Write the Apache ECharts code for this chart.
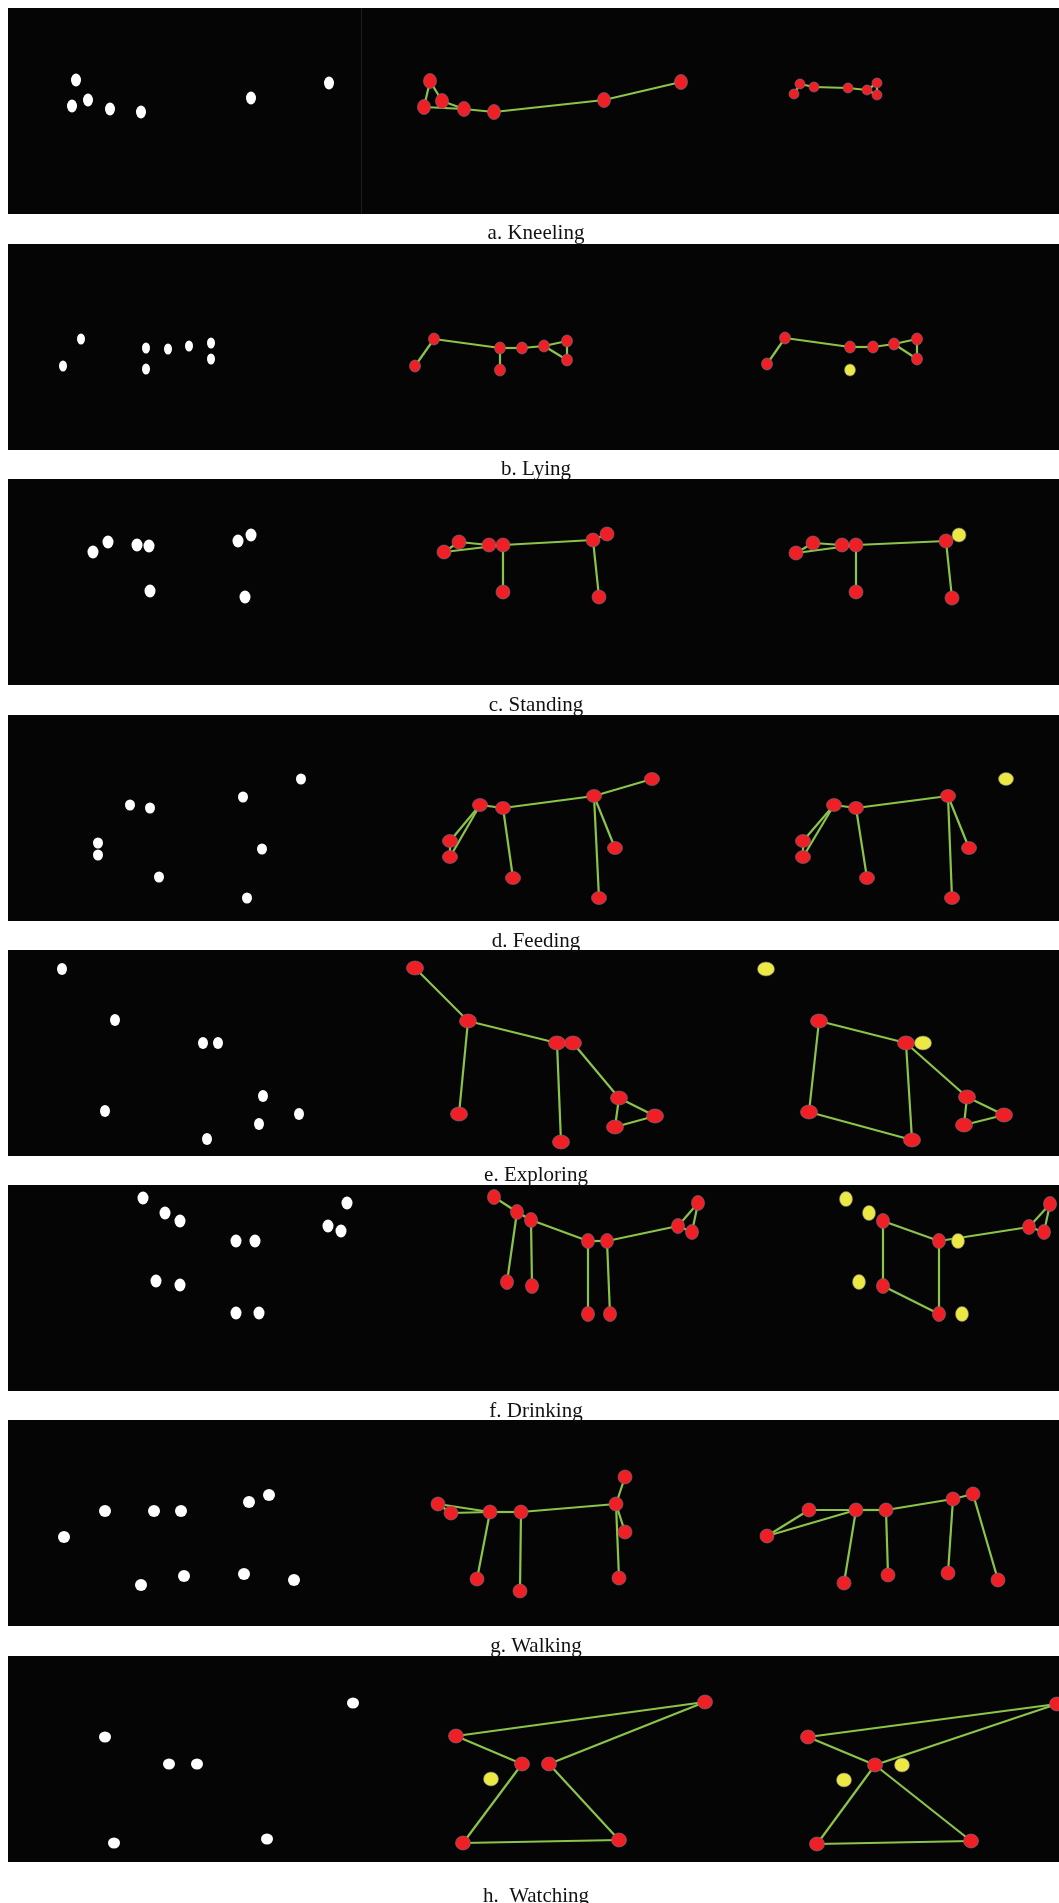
<!DOCTYPE html>
<html>
<head>
<meta charset="utf-8">
<script src="https://cdn.jsdelivr.net/npm/echarts@6/dist/echarts.min.js"></script>
<style>
  html, body { margin: 0; padding: 0; background: #fff; }
  #main { width: 1059px; height: 1903px; }
</style>
</head>
<body>
<div id="main"></div>
<script>
// captions of the eight behaviours
var captions = ['a. Kneeling', 'b. Lying', 'c. Standing', 'd. Feeding',
                'e. Exploring', 'f. Drinking', 'g. Walking', 'h.  Watching'];

// keypoints: [x, y] raw blobs, [x, y, k] skeletons (k = 1 -> yellow point)
var aRaw = [[76,72],[72,98],[88,92],[110,101],[141,104],[251,90],[329,75]];
var aPose = [[430,73,0],[424,99,0],[442,93,0],[464,101,0],[494,104,0],[604,92,0],[681,74,0]];
var aPoseEdges = [[0,1],[0,2],[1,3],[2,3],[3,4],[4,5],[5,6]];
var aFix = [[800,76,0],[794,86,0],[814,79,0],[848,80,0],[867,82,0],[877,75,0],[877,87,0]];
var aFixEdges = [[0,1],[0,2],[2,3],[3,4],[4,5],[4,6],[5,6]];

var bRaw = [[81,95],[63,122],[146,104],[146,125],[168,105],[189,102],[211,99],[211,115]];
var bPose = [[434,95,0],[415,122,0],[500,104,0],[500,126,0],[522,104,0],[544,102,0],[567,97,0],[567,116,0]];
var bPoseEdges = [[0,1],[0,2],[2,3],[2,4],[4,5],[5,6],[5,7],[6,7]];
var bFix = [[785,94,0],[767,120,0],[850,103,0],[850,126,1],[873,103,0],[894,100,0],[917,95,0],[917,115,0]];
var bFixEdges = [[0,1],[0,2],[2,4],[4,5],[5,6],[5,7],[6,7]];

var cRaw = [[93,73],[108,63],[137,66],[149,67],[150,112],[238,62],[251,56],[245,118]];
var cPose = [[444,73,0],[459,63,0],[489,66,0],[503,66,0],[503,113,0],[593,61,0],[607,55,0],[599,118,0]];
var cPoseEdges = [[0,1],[0,3],[1,2],[2,3],[3,4],[3,5],[5,6],[5,7]];
var cFix = [[796,74,0],[813,64,0],[842,66,0],[856,66,0],[856,113,0],[946,62,0],[959,56,1],[952,119,0]];
var cFixEdges = [[0,1],[0,3],[1,2],[2,3],[3,4],[3,5],[5,7]];

var dRaw = [[301,64],[243,82],[130,90],[150,93],[98,128],[98,140],[262,134],[159,162],[247,183]];
var dPose = [[652,64,0],[594,81,0],[480,90,0],[503,93,0],[450,126,0],[450,142,0],[615,133,0],[513,163,0],[599,183,0]];
var dPoseEdges = [[0,1],[1,3],[2,3],[2,4],[2,5],[4,5],[3,7],[1,6],[1,8]];
var dFix = [[1006,64,1],[948,81,0],[834,90,0],[856,93,0],[803,126,0],[803,142,0],[969,133,0],[867,163,0],[952,183,0]];
var dFixEdges = [[1,3],[2,3],[2,4],[2,5],[4,5],[3,7],[1,6],[1,8]];

var eRaw = [[62,19],[115,70],[203,93],[218,93],[105,161],[263,146],[299,164],[259,174],[207,189]];
var ePose = [[415,18,0],[468,71,0],[557,93,0],[573,93,0],[459,164,0],[561,192,0],[619,148,0],[655,166,0],[615,177,0]];
var ePoseEdges = [[0,1],[1,2],[2,3],[1,4],[2,5],[3,6],[6,7],[6,8],[7,8]];
var eFix = [[766,19,1],[819,71,0],[906,93,0],[923,93,1],[809,162,0],[912,190,0],[967,147,0],[1004,165,0],[964,175,0]];
var eFixEdges = [[1,2],[1,4],[4,5],[2,5],[2,6],[6,7],[6,8],[7,8]];

var fRaw = [[143,13],[165,28],[180,36],[236,56],[255,56],[156,96],[180,100],[236,128],[259,128],[347,18],[328,41],[341,46]];
var fPose = [[494,12,0],[517,27,0],[531,35,0],[588,56,0],[607,56,0],[507,97,0],[532,101,0],[588,129,0],[610,129,0],[698,18,0],[678,41,0],[692,47,0]];
var fPoseEdges = [[0,1],[1,2],[1,5],[2,6],[2,3],[3,4],[3,7],[4,8],[4,10],[9,10],[10,11],[9,11]];
var fFix = [[846,14,1],[869,28,1],[883,36,0],[939,56,0],[958,56,1],[859,97,1],[883,101,0],[939,129,0],[962,129,1],[1050,19,0],[1029,42,0],[1044,47,0]];
var fFixEdges = [[2,3],[2,6],[6,7],[3,7],[3,10],[9,10],[10,11],[9,11]];

var gRaw = [[64,117],[105,91],[154,91],[181,91],[249,82],[269,75],[141,165],[184,156],[244,154],[294,160]];
var gPose = [[438,84,0],[451,93,0],[490,92,0],[521,92,0],[616,84,0],[625,57,0],[625,112,0],[477,159,0],[520,171,0],[619,158,0]];
var gPoseEdges = [[0,1],[0,2],[1,2],[2,3],[3,4],[4,5],[4,6],[4,9],[2,7],[3,8]];
var gFix = [[767,116,0],[809,90,0],[856,90,0],[886,90,0],[953,79,0],[973,74,0],[844,163,0],[888,155,0],[948,153,0],[998,160,0]];
var gFixEdges = [[0,1],[0,2],[1,2],[2,3],[3,4],[4,5],[2,6],[3,7],[4,8],[5,9]];

var hRaw = [[353,47],[105,81],[169,108],[197,108],[114,187],[267,183]];
var hPose = [[705,46,0],[456,80,0],[522,108,0],[549,108,0],[491,123,1],[463,187,0],[619,184,0]];
var hPoseEdges = [[0,1],[0,3],[1,2],[2,5],[3,6],[5,6]];
var hFix = [[1057,48,0],[808,81,0],[875,109,0],[902,109,1],[844,124,1],[817,188,0],[971,185,0]];
var hFixEdges = [[0,1],[0,2],[1,2],[2,5],[2,6],[5,6]];

var panels = [
    {raw: aRaw, pose: aPose, poseEdges: aPoseEdges, fix: aFix, fixEdges: aFixEdges},
    {raw: bRaw, pose: bPose, poseEdges: bPoseEdges, fix: bFix, fixEdges: bFixEdges},
    {raw: cRaw, pose: cPose, poseEdges: cPoseEdges, fix: cFix, fixEdges: cFixEdges},
    {raw: dRaw, pose: dPose, poseEdges: dPoseEdges, fix: dFix, fixEdges: dFixEdges},
    {raw: eRaw, pose: ePose, poseEdges: ePoseEdges, fix: eFix, fixEdges: eFixEdges},
    {raw: fRaw, pose: fPose, poseEdges: fPoseEdges, fix: fFix, fixEdges: fFixEdges},
    {raw: gRaw, pose: gPose, poseEdges: gPoseEdges, fix: gFix, fixEdges: gFixEdges},
    {raw: hRaw, pose: hPose, poseEdges: hPoseEdges, fix: hFix, fixEdges: hFixEdges}
];

// layout / style
var panelTops = [8, 244, 479, 715, 950, 1185, 1420, 1656];
var captionMid = [230, 466, 702, 938, 1172, 1408, 1643, 1893];
var panelH = 206;
// symbol sizes per panel: [raw, pose, fix]
var sizes = [
    [[10,13],[13,15],[10,10]],
    [[8,11],[11,12],[11,12]],
    [[11,13],[14,14],[14,14]],
    [[10,11],[15,13],[15,13]],
    [[10,12],[17,14],[17,14]],
    [[11,13],[13,15],[13,15]],
    [[12,12],[14,14],[14,14]],
    [[12,11],[15,14],[15,14]]
];
var RED = '#ee1f25', YELLOW = '#ece945', GREEN = '#8cc44a';

var myChart = echarts.init(document.getElementById('main'));

var grids = [], xAxes = [], yAxes = [], series = [], titles = [];

function edgeData(pts, edges) {
    return edges.map(function (e) {
        return {coords: [[pts[e[0]][0], pts[e[0]][1]], [pts[e[1]][0], pts[e[1]][1]]]};
    });
}

function pointSeries(pts, size, idx) {
    return {
        type: 'scatter', xAxisIndex: idx, yAxisIndex: idx,
        symbol: 'circle', symbolSize: size, z: 5,
        data: pts.map(function (p) {
            return {
                value: [p[0], p[1]],
                itemStyle: {color: p[2] ? YELLOW : RED, opacity: 1,
                            borderColor: '#75758a', borderWidth: 0.6}
            };
        })
    };
}

panels.forEach(function (p, i) {
    grids.push({
        left: 8, right: 0, top: panelTops[i], height: panelH,
        show: true, backgroundColor: '#050505', borderWidth: 0
    });
    xAxes.push({type: 'value', gridIndex: i, min: 8, max: 1059, show: false});
    yAxes.push({type: 'value', gridIndex: i, min: 0, max: panelH, inverse: true, show: false});

    var raw = {
        type: 'scatter', xAxisIndex: i, yAxisIndex: i,
        symbol: 'circle', symbolSize: sizes[i][0], z: 5,
        itemStyle: {color: '#ffffff', opacity: 1},
        data: p.raw
    };
    if (i === 0) {
        // faint seam between the first two frames
        raw.markLine = {
            silent: true, symbol: 'none', label: {show: false},
            lineStyle: {color: '#1e1e1e', width: 1, type: 'solid'},
            data: [{xAxis: 361}]
        };
    }
    series.push(raw);

    series.push({
        type: 'lines', coordinateSystem: 'cartesian2d', xAxisIndex: i, yAxisIndex: i,
        z: 3, lineStyle: {color: GREEN, width: 2.2, opacity: 1, curveness: 0},
        data: edgeData(p.pose, p.poseEdges)
    });
    series.push(pointSeries(p.pose, sizes[i][1], i));

    series.push({
        type: 'lines', coordinateSystem: 'cartesian2d', xAxisIndex: i, yAxisIndex: i,
        z: 3, lineStyle: {color: GREEN, width: 2.2, opacity: 1, curveness: 0},
        data: edgeData(p.fix, p.fixEdges)
    });
    series.push(pointSeries(p.fix, sizes[i][2], i));

    titles.push({
        text: captions[i], left: 531, top: captionMid[i] - 12, textAlign: 'center',
        textStyle: {fontFamily: 'Liberation Serif', fontSize: 21, fontWeight: 'normal', color: '#111'}
    });
});

var option = {
    backgroundColor: '#ffffff',
    animation: false,
    title: titles,
    grid: grids,
    xAxis: xAxes,
    yAxis: yAxes,
    series: series
};
myChart.setOption(option);
</script>
</body>
</html>
